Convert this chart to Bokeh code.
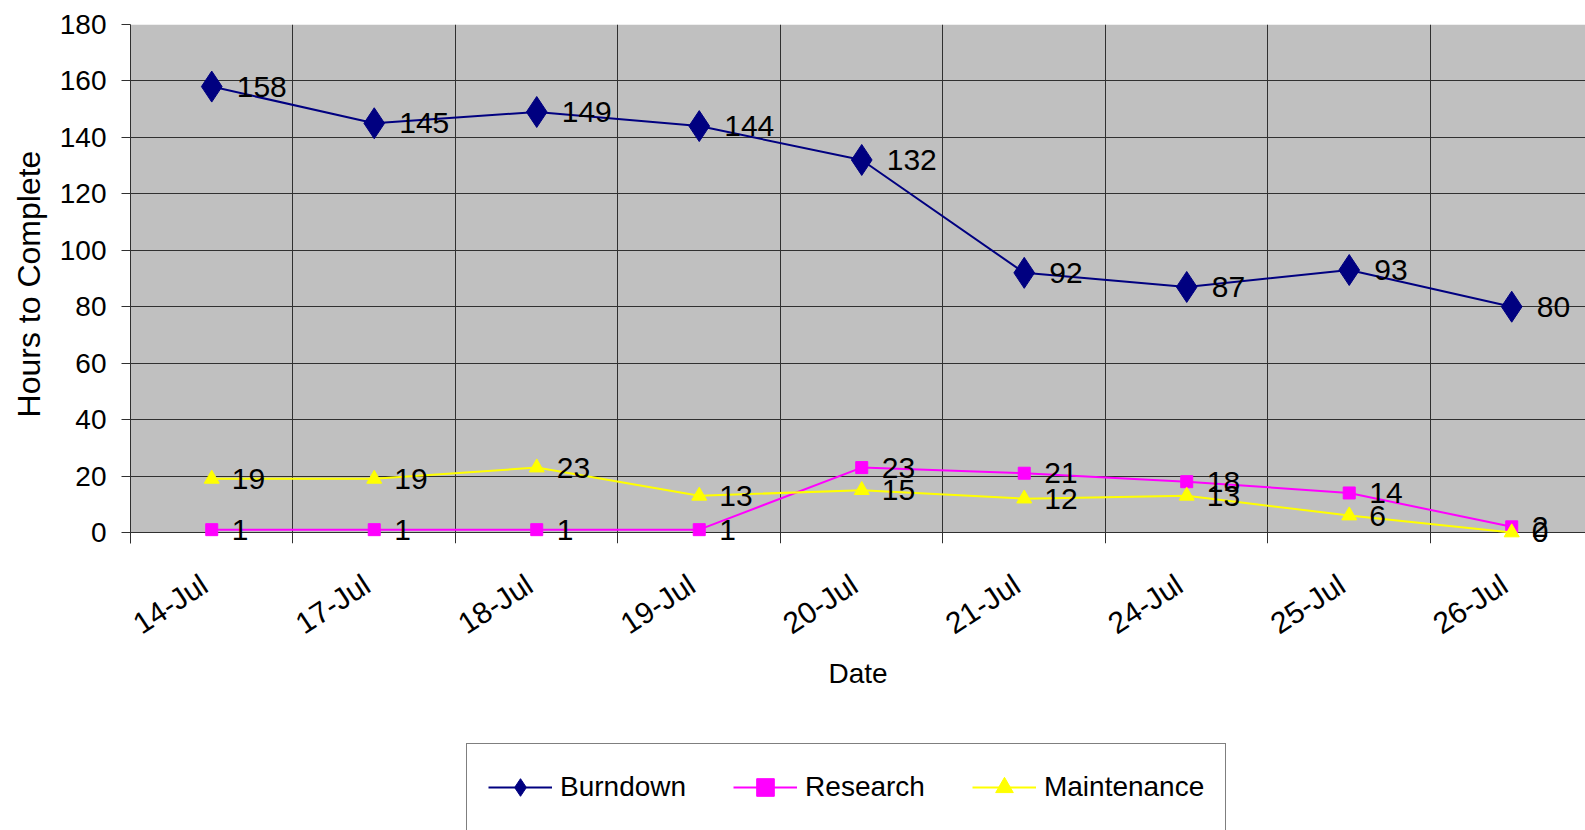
from bokeh.plotting import figure
from bokeh.layouts import column
from bokeh.models import Range1d, FixedTicker, Legend, LegendItem, ColumnDataSource, BoxAnnotation
from bokeh.core.properties import value
from bokeh.embed import file_html
from bokeh.resources import INLINE

dates = ["14-Jul", "17-Jul", "18-Jul", "19-Jul", "20-Jul", "21-Jul", "24-Jul", "25-Jul", "26-Jul"]
burndown = [158, 145, 149, 144, 132, 92, 87, 93, 80]
research = [1, 1, 1, 1, 23, 21, 18, 14, 2]
maintenance = [19, 19, 23, 13, 15, 12, 13, 6, 0]
y_ticks = [0, 20, 40, 60, 80, 100, 120, 140, 160, 180]
series_names = ["Burndown", "Research", "Maintenance"]

FONT = "Liberation Sans"
xs = [i + 0.5 for i in range(len(dates))]
bounds = list(range(len(dates) + 1))
label_pos = [x - 0.045 for x in xs]

p = figure(width=1585, height=740, output_backend="svg", toolbar_location=None,
           x_range=Range1d(0, 8.954), y_range=Range1d(-3.9, 180),
           min_border_left=130, min_border_top=24, min_border_right=0, min_border_bottom=197)
p.background_fill_color = "white"
p.border_fill_color = "white"
p.outline_line_color = None
p.add_layout(BoxAnnotation(bottom=0, fill_color="#C0C0C0", fill_alpha=1, line_color=None, level="image"))

# axes
xa = p.xaxis[0]
xa.ticker = FixedTicker(ticks=label_pos)
xa.major_label_overrides = {x: d for x, d in zip(label_pos, dates)}
xa.major_tick_line_color = None
xa.minor_tick_line_color = None
xa.axis_line_color = None
xa.major_label_orientation = 0.58
xa.major_label_text_font = FONT
xa.major_label_text_font_size = "30px"
xa.major_label_text_color = "black"
xa.major_label_standoff = 32
xa.axis_label = "Date"
xa.axis_label_text_font = FONT
xa.axis_label_text_font_size = "28px"
xa.axis_label_text_font_style = "normal"
xa.axis_label_text_color = "black"
xa.axis_label_standoff = 1

ya = p.yaxis[0]
ya.ticker = FixedTicker(ticks=y_ticks)
ya.major_tick_out = 9
ya.major_tick_in = 0
ya.minor_tick_out = 0
ya.minor_tick_in = 0
ya.major_tick_line_color = "#303030"
ya.axis_line_color = "#303030"
ya.major_label_text_font = FONT
ya.major_label_text_font_size = "28px"
ya.major_label_text_color = "black"
ya.major_label_standoff = 15
ya.axis_label = "Hours to Complete"
ya.axis_label_text_font = FONT
ya.axis_label_text_font_size = "32px"
ya.axis_label_text_font_style = "normal"
ya.axis_label_text_color = "black"
ya.axis_label_standoff = 10

p.xgrid.ticker = FixedTicker(ticks=bounds[1:])
p.xgrid.grid_line_color = "#303030"
p.ygrid.ticker = FixedTicker(ticks=y_ticks)
p.ygrid.grid_line_color = "#303030"

src = ColumnDataSource(dict(x=xs, b=burndown, r=research, m=maintenance,
                            bt=[str(v) for v in burndown], rt=[str(v) for v in research],
                            mt=[str(v) for v in maintenance]))

STYLES = [("#000080", "diamond", 31), ("#FF00FF", "square", 12), ("#FFFF00", "triangle", 15)]

for (col, (color, marker, size)) in zip(("b", "r", "m"), STYLES):
    p.line("x", col, source=src, line_color=color, line_width=2)
    p.scatter("x", col, source=src, marker=marker, size=size, fill_color=color, line_color=color)

for col, tcol, off in (("b", "bt", 25), ("r", "rt", 20), ("m", "mt", 20)):
    p.text("x", col, text=tcol, source=src, x_offset=off, y_offset=0,
           text_align="left", text_baseline="middle",
           text_font=value(FONT), text_font_size="30px", text_color="black")

# legend strip below the chart (same series, drawn outside its visible range)
p2 = figure(width=1585, height=90, output_backend="svg", toolbar_location=None,
            x_axis_location=None, y_axis_location=None,
            x_range=Range1d(0, 1), y_range=Range1d(1000, 1001),
            min_border_left=0, min_border_top=0, min_border_right=0, min_border_bottom=0)
p2.outline_line_color = None
p2.background_fill_color = "white"
p2.border_fill_color = "white"
p2.grid.visible = False

items = []
for name, col, (color, marker, size) in zip(series_names, ("b", "r", "m"), STYLES):
    lr = p2.line("x", col, source=src, line_color=color, line_width=2)
    mr = p2.scatter("x", col, source=src, marker=marker, size=size, fill_color=color, line_color=color)
    items.append(LegendItem(label=name, renderers=[lr, mr]))

legend = Legend(items=items, location=(336, -1), orientation="horizontal")
legend.label_text_font = FONT
legend.label_text_font_size = "28px"
legend.label_text_color = "black"
legend.glyph_width = 64
legend.glyph_height = 44
legend.label_height = 44
legend.label_standoff = 8
legend.spacing = 47
legend.padding = 21
legend.margin = 0
legend.border_line_color = "black"
legend.border_line_width = 1
legend.background_fill_color = "white"
legend.background_fill_alpha = 1
p2.add_layout(legend, "center")

layout = column(p, p2, spacing=0)
open("out.html", "w").write(file_html(layout, INLINE))
